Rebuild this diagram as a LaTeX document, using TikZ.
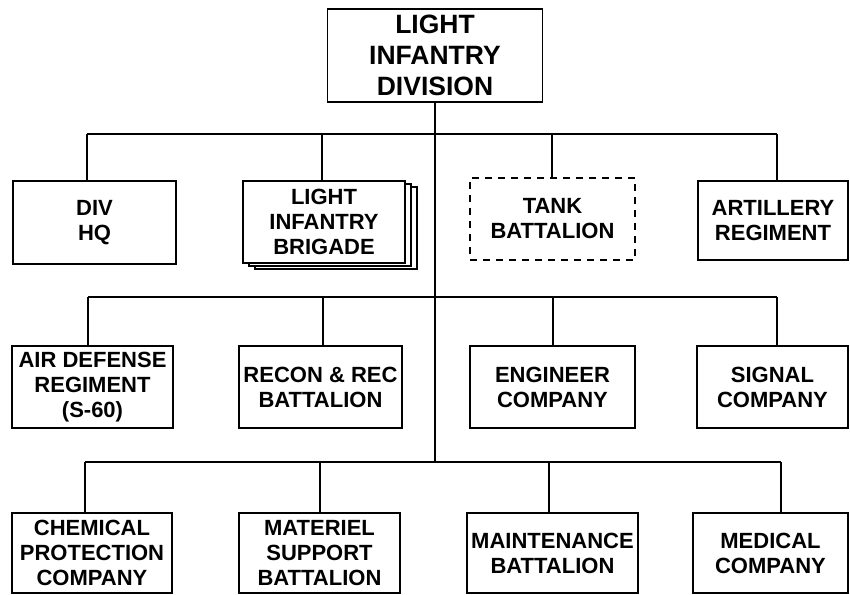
\documentclass[tikz,border=0pt]{standalone}
\usepackage{fontspec}
\setmainfont{Liberation Sans}
\begin{document}
\begin{tikzpicture}[x=1pt,y=-1pt,
  unit/.style={draw, line width=1.6pt, fill=white, align=center, inner sep=0pt,
    font=\fontsize{22}{25}\selectfont\bfseries},
  topunit/.style={unit, font=\fontsize{26.5}{31}\selectfont\bfseries},
  conn/.style={line width=1.6pt},
  layer/.style={draw, line width=1.4pt, fill=white}]
\useasboundingbox (0,0) rectangle (850,594);
% top
\node[topunit, minimum width=215pt, minimum height=93pt] (lid) at (435,55.5) {LIGHT\\INFANTRY\\DIVISION};
% row 1
\node[unit, minimum width=163pt, minimum height=83pt] (divhq) at (94.5,222.5) {DIV\\HQ};
\draw[layer] (255,187) rectangle (417,269);
\draw[layer] (249,184) rectangle (411,266);
\node[unit, minimum width=162pt, minimum height=82pt] (brig) at (324,222) {LIGHT\\INFANTRY\\BRIGADE};
\node[unit, dash pattern=on 7pt off 6pt, minimum width=165pt, minimum height=82pt] (tank) at (552.5,219) {TANK\\BATTALION};
\node[unit, minimum width=150pt, minimum height=79pt] (art) at (773,220.5) {ARTILLERY\\REGIMENT};
% row 2
\node[unit, minimum width=161pt, minimum height=82pt] (ad) at (92.5,387) {AIR DEFENSE\\REGIMENT\\(S-60)};
\node[unit, minimum width=163pt, minimum height=82pt] (recon) at (320.5,387) {RECON \& REC\\BATTALION};
\node[unit, minimum width=165pt, minimum height=82pt] (eng) at (552.5,387) {ENGINEER\\COMPANY};
\node[unit, minimum width=151pt, minimum height=82pt] (sig) at (772.5,387) {SIGNAL\\COMPANY};
% row 3
\node[unit, minimum width=160pt, minimum height=80pt] (chem) at (92,553) {CHEMICAL\\PROTECTION\\COMPANY};
\node[unit, minimum width=161pt, minimum height=80pt] (mat) at (319.5,553) {MATERIEL\\SUPPORT\\BATTALION};
\node[unit, minimum width=171pt, minimum height=80pt] (maint) at (552.5,553) {MAINTENANCE\\BATTALION};
\node[unit, minimum width=155pt, minimum height=80pt] (med) at (770.5,553) {MEDICAL\\COMPANY};
% bus coordinates
\coordinate (a1) at (87,134);  \coordinate (a2) at (322,134);
\coordinate (a3) at (552,134); \coordinate (a4) at (777,134);
\coordinate (b1) at (88,297);  \coordinate (b2) at (323,297);
\coordinate (b3) at (553,297); \coordinate (b4) at (777,297);
\coordinate (c1) at (85,462);  \coordinate (c2) at (320,462);
\coordinate (c3) at (549,462); \coordinate (c4) at (781,462);
% trunk
\draw[conn] (lid.south) -- (lid.south |- c1);
% buses
\draw[conn] (a1) -- (a4);
\draw[conn] (b1) -- (b4);
\draw[conn] (c1) -- (c4);
% drops
\draw[conn] (a1) -- (a1 |- divhq.north);
\draw[conn] (a2) -- (a2 |- brig.north);
\draw[conn] (a3) -- (a3 |- tank.north);
\draw[conn] (a4) -- (a4 |- art.north);
\draw[conn] (b1) -- (b1 |- ad.north);
\draw[conn] (b2) -- (b2 |- recon.north);
\draw[conn] (b3) -- (b3 |- eng.north);
\draw[conn] (b4) -- (b4 |- sig.north);
\draw[conn] (c1) -- (c1 |- chem.north);
\draw[conn] (c2) -- (c2 |- mat.north);
\draw[conn] (c3) -- (c3 |- maint.north);
\draw[conn] (c4) -- (c4 |- med.north);
\end{tikzpicture}
\end{document}
